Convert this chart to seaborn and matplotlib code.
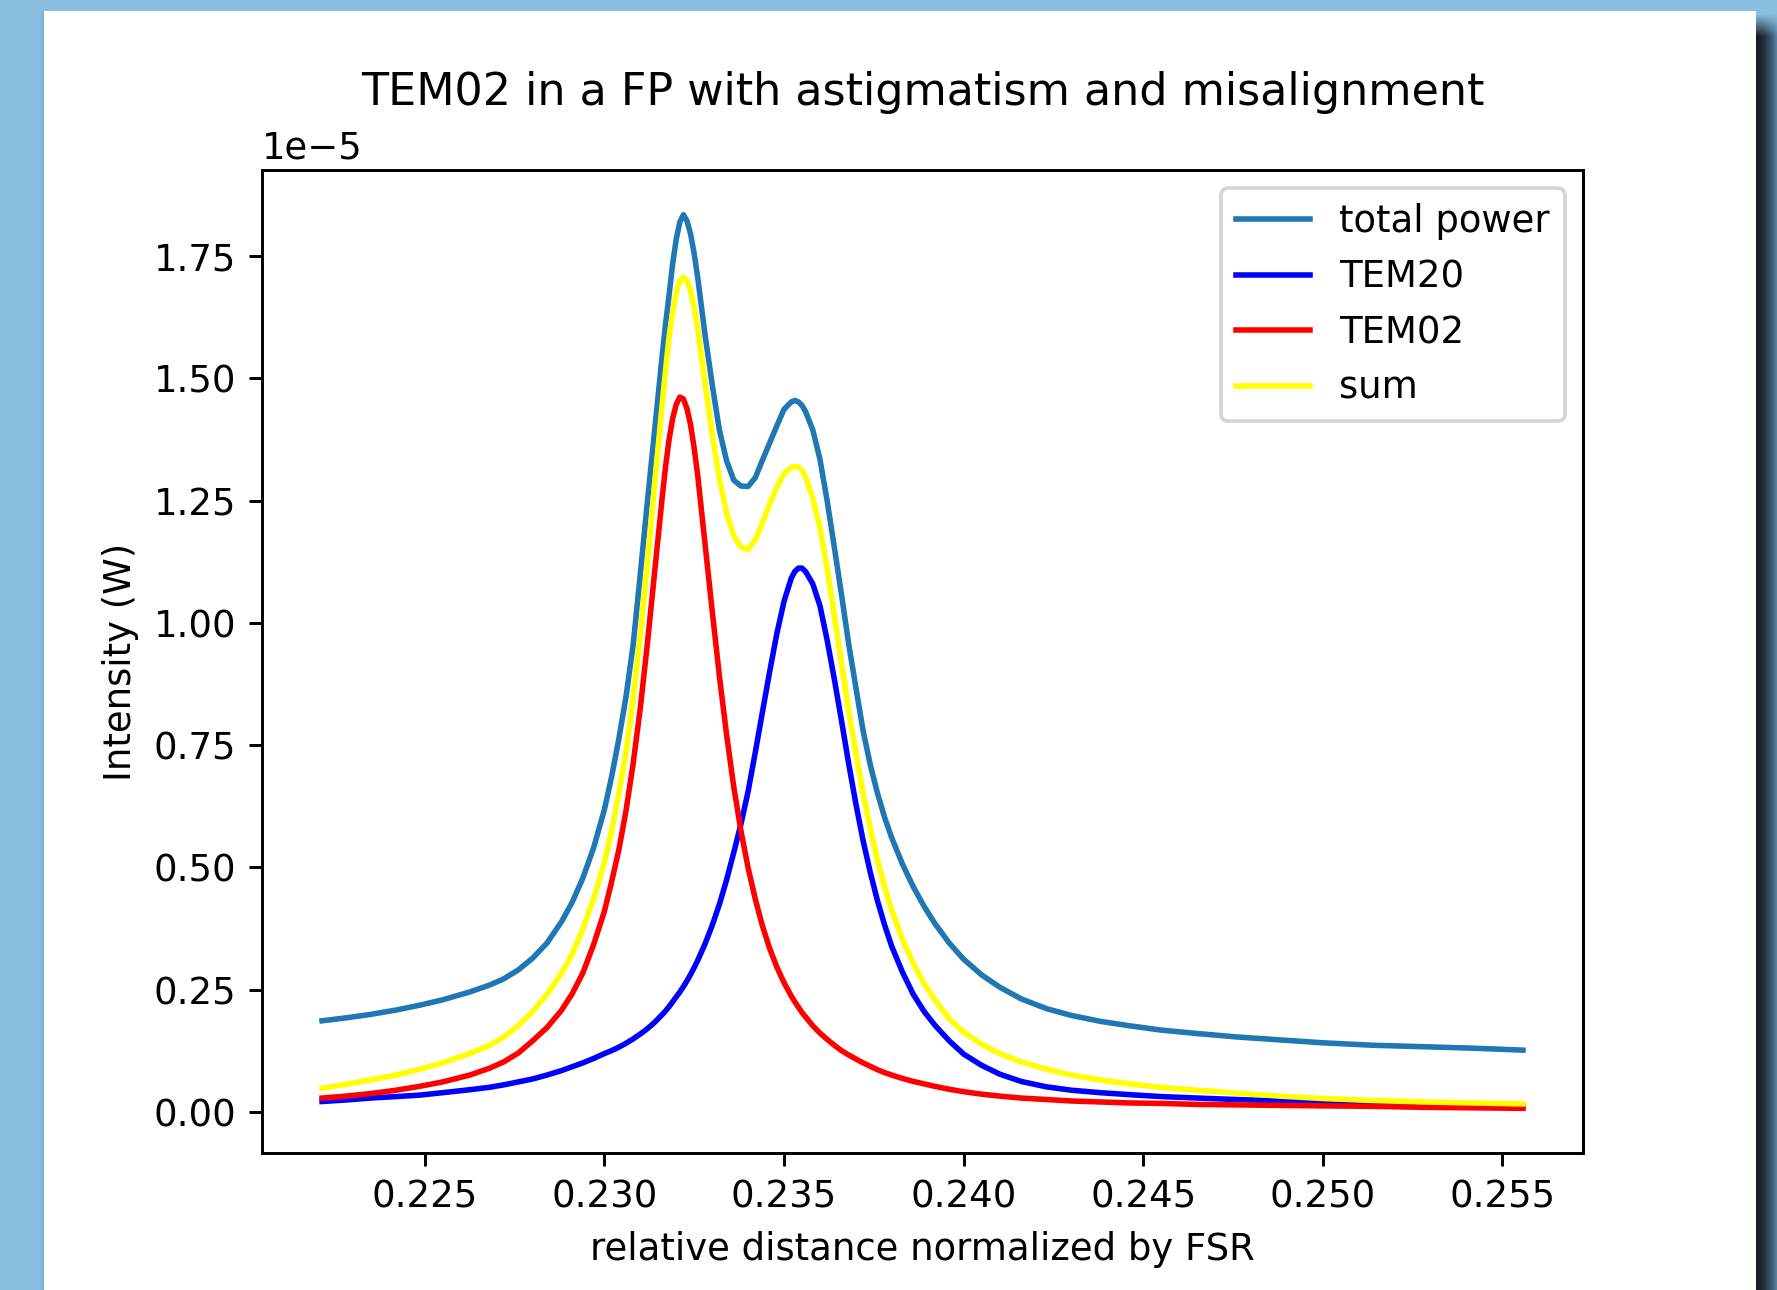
import matplotlib
matplotlib.use("Agg")
import matplotlib.pyplot as plt
from matplotlib.patches import Rectangle
import numpy as np
import seaborn as sns

SCALE = 1e-5  # intensities below are in units of 1e-5 W

x_rel = [0.22214, 0.2228, 0.22348, 0.2242, 0.22486, 0.2255, 0.22625, 0.2268, 0.2272, 0.2276,
         0.2280, 0.2284, 0.2288, 0.2291, 0.2294, 0.2297, 0.2300, 0.2302, 0.2304, 0.2306,
         0.2308, 0.2310, 0.2312, 0.2314, 0.2316, 0.2317, 0.2318, 0.2319, 0.2320, 0.2321,
         0.2322, 0.2323, 0.2324, 0.2325, 0.2326, 0.2328, 0.2330, 0.2332, 0.2334, 0.2336,
         0.2338, 0.2340, 0.2342, 0.2344, 0.2346, 0.2348, 0.2350, 0.2352, 0.2353, 0.2354,
         0.2355, 0.2356, 0.2358, 0.2360, 0.2362, 0.2364, 0.2366, 0.2368, 0.2370, 0.2372,
         0.2374, 0.2376, 0.2378, 0.2380, 0.2383, 0.2386, 0.2389, 0.2392, 0.2396, 0.2400,
         0.2405, 0.2410, 0.2416, 0.2423, 0.2430, 0.2438, 0.2446, 0.2455, 0.2465, 0.2476,
         0.2488, 0.2500, 0.2514, 0.2528, 0.2542, 0.25557]

total_power = [0.186, 0.192, 0.199, 0.208, 0.218, 0.229, 0.245, 0.259, 0.272, 0.290,
               0.314, 0.345, 0.388, 0.428, 0.478, 0.540, 0.618, 0.685, 0.762, 0.848,
               0.955, 1.100, 1.250, 1.395, 1.540, 1.610, 1.670, 1.735, 1.785, 1.820,
               1.835, 1.822, 1.795, 1.755, 1.705, 1.590, 1.488, 1.395, 1.332, 1.292,
               1.280, 1.279, 1.297, 1.333, 1.368, 1.403, 1.437, 1.452, 1.455, 1.452,
               1.445, 1.432, 1.395, 1.335, 1.250, 1.155, 1.058, 0.957, 0.868, 0.780,
               0.710, 0.652, 0.602, 0.560, 0.506, 0.460, 0.420, 0.385, 0.345, 0.312,
               0.280, 0.255, 0.231, 0.211, 0.197, 0.185, 0.176, 0.167, 0.160, 0.153,
               0.147, 0.141, 0.136, 0.133, 0.130, 0.126]

tem20 = [0.021, 0.024, 0.028, 0.031, 0.034, 0.039, 0.045, 0.050, 0.055, 0.061,
         0.067, 0.075, 0.084, 0.092, 0.100, 0.109, 0.119, 0.125, 0.132, 0.140,
         0.149, 0.159, 0.170, 0.183, 0.198, 0.206, 0.215, 0.225, 0.235, 0.245,
         0.256, 0.268, 0.281, 0.295, 0.310, 0.343, 0.381, 0.424, 0.474, 0.530,
         0.588, 0.655, 0.735, 0.818, 0.900, 0.978, 1.044, 1.091, 1.105, 1.112,
         1.112, 1.105, 1.080, 1.035, 0.965, 0.885, 0.800, 0.712, 0.630, 0.555,
         0.490, 0.432, 0.382, 0.338, 0.285, 0.240, 0.205, 0.177, 0.145, 0.118,
         0.095, 0.077, 0.062, 0.051, 0.044, 0.039, 0.035, 0.031, 0.028, 0.025,
         0.022, 0.019, 0.017, 0.015, 0.013, 0.012]

tem02 = [0.028, 0.032, 0.037, 0.044, 0.052, 0.061, 0.075, 0.089, 0.102, 0.120,
         0.145, 0.172, 0.207, 0.241, 0.284, 0.342, 0.410, 0.470, 0.535, 0.615,
         0.712, 0.826, 0.960, 1.105, 1.250, 1.318, 1.375, 1.418, 1.447, 1.462,
         1.458, 1.438, 1.405, 1.357, 1.300, 1.163, 1.025, 0.892, 0.772, 0.665,
         0.575, 0.499, 0.435, 0.380, 0.334, 0.296, 0.264, 0.237, 0.225, 0.214,
         0.203, 0.194, 0.176, 0.161, 0.148, 0.136, 0.125, 0.116, 0.108, 0.100,
         0.093, 0.086, 0.080, 0.075, 0.068, 0.062, 0.057, 0.052, 0.046, 0.041,
         0.036, 0.032, 0.028, 0.025, 0.022, 0.020, 0.018, 0.017, 0.015, 0.014,
         0.013, 0.012, 0.011, 0.009, 0.008, 0.007]

sum_modes = [0.048, 0.056, 0.065, 0.075, 0.087, 0.100, 0.119, 0.136, 0.153, 0.176,
             0.205, 0.240, 0.283, 0.322, 0.374, 0.436, 0.510, 0.575, 0.650, 0.735,
             0.845, 0.975, 1.125, 1.285, 1.440, 1.515, 1.585, 1.635, 1.675, 1.700,
             1.707, 1.700, 1.680, 1.643, 1.600, 1.490, 1.385, 1.295, 1.225, 1.178,
             1.155, 1.150, 1.170, 1.205, 1.243, 1.278, 1.305, 1.318, 1.320, 1.319,
             1.312, 1.298, 1.255, 1.195, 1.112, 1.015, 0.918, 0.820, 0.735, 0.652,
             0.580, 0.515, 0.460, 0.412, 0.352, 0.303, 0.262, 0.229, 0.190, 0.163,
             0.138, 0.119, 0.102, 0.087, 0.075, 0.065, 0.057, 0.050, 0.044, 0.038,
             0.032, 0.027, 0.023, 0.020, 0.018, 0.016]

series = [
    ("total power", total_power, "tab:blue"),
    ("TEM20", tem20, "blue"),
    ("TEM02", tem02, "red"),
    ("sum", sum_modes, "yellow"),
]

W, H = 1777, 1290
DPI = 266
BG = np.array([137, 190, 224]) / 255.0
fig = plt.figure(figsize=(W / DPI, H / DPI), dpi=DPI)
fig.patch.set_facecolor(BG)

# white card
card_l, card_r, card_t = 44, 1756, 11
fig.patches.append(Rectangle((card_l / W, 0), (card_r - card_l) / W, (H - card_t) / H,
                             transform=fig.transFigure, facecolor="white",
                             edgecolor="none", zorder=-10))

# dark drop shadow on the right of the card
sw = W - card_r
g = (np.linspace(0, 1, sw) ** 1.6)[None, :, None]
dark = np.array([0.08, 0.11, 0.14])
light = np.array([0.34, 0.50, 0.62])
img = dark * (1 - g) + light * g
img = np.repeat(img, H, axis=0)
fade = np.clip((np.arange(H) - 14) / 22.0, 0, 1)[:, None, None]
img = BG * (1 - fade) + img * fade
fig.figimage(img, xo=card_r, yo=0, origin="upper", zorder=-5)

# faint shadow on the left edge of the card
lw = 5
gl = np.linspace(0, 1, lw)[None, :, None]
limg = BG * (1 - gl) + (BG * 0.92) * gl
limg = np.repeat(limg, H - card_t, axis=0)
fig.figimage(limg, xo=card_l - lw, yo=0, origin="upper", zorder=-5)

ax = fig.add_axes([262 / W, (H - 1153) / H, (1583 - 262) / W, (1153 - 170) / H])

xs = np.array(x_rel)
for name, ys, col in series:
    sns.lineplot(x=xs, y=np.array(ys) * SCALE, ax=ax, color=col, label=name,
                 estimator=None, sort=False, linewidth=1.5)

ax.set_xlabel("relative distance normalized by FSR")
ax.set_ylabel("Intensity (W)")
ax.set_title("TEM02 in a FP with astigmatism and misalignment", y=1.066, pad=0)
ax.legend(loc="upper right")

fig.savefig("out.png", dpi=DPI, facecolor=fig.get_facecolor())
